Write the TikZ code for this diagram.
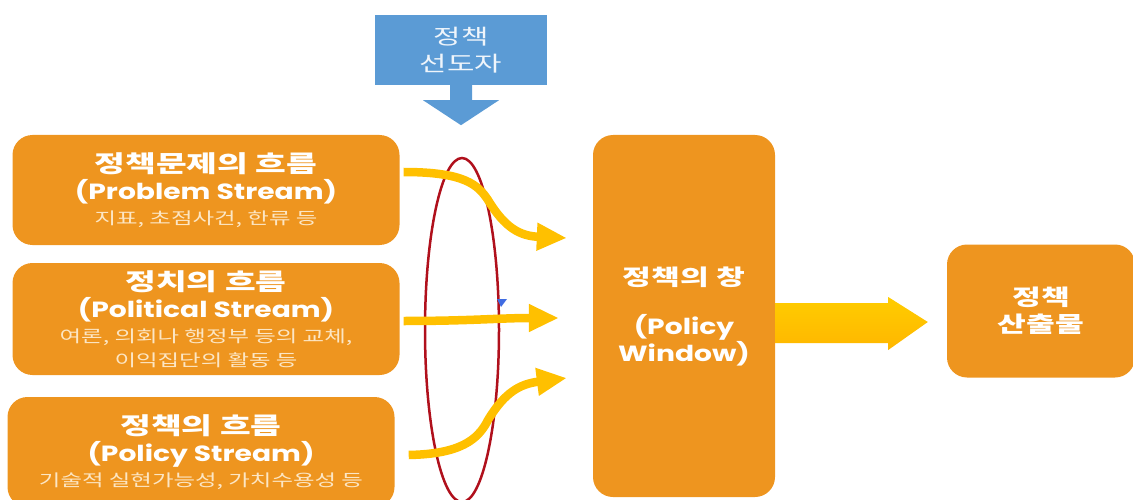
\documentclass[tikz,border=0pt]{standalone}
\usepackage{fontspec}
\setmainfont{Noto Sans CJK KR}[FakeStretch=1.42]
\newfontfamily\engfont{Poppins}[FakeStretch=1.28]
\usepackage{tikz}
\usetikzlibrary{arrows.meta,positioning,calc}
\definecolor{streamfill}{HTML}{EE951F}
\definecolor{subtext}{HTML}{FCE6C4}
\definecolor{leadblue}{HTML}{5B9BD5}
\definecolor{flowgold}{HTML}{FFC000}
\definecolor{ringred}{HTML}{B0101C}
\newcommand{\subline}[1]{{\color{subtext}\fontsize{16.5}{20}\selectfont\mdseries #1}}
\newcommand{\engline}[1]{{\engfont\fontsize{22}{27}\selectfont #1}}

\begin{document}
\begin{tikzpicture}[x=1pt,y=-1pt,
 stream/.style={fill=streamfill,rounded corners=20pt,minimum width=387pt,align=center,text=white,font=\fontsize{23.5}{27}\selectfont\bfseries,inner sep=0pt},
 flow/.style={draw=flowgold,line width=8.5pt,-{Triangle[length=30pt,width=26pt]}}
]
\useasboundingbox (0,0) rectangle (1133,500);
% stream boxes
\node[stream,minimum height=110pt] (prob) at (206,190) {정책문제의 흐름\\\engline{(Problem Stream)}\\[-2pt]\subline{지표, 초점사건, 한류 등}};
\node[stream,minimum height=112pt] (pol) at (206,319) {정치의 흐름\\\engline{(Political Stream)}\\[-2pt]\subline{여론, 의회나 행정부 등의 교체,}\\[-3pt]\subline{이익집단의 활동 등}};
\node[stream,minimum height=110pt] (pcy) at (201,452) {정책의 흐름\\\engline{(Policy Stream)}\\[-2pt]\subline{기술적 실현가능성, 가치수용성 등}};
% window and output
\node[stream,minimum width=182pt,minimum height=362pt,font=\fontsize{22}{27}\selectfont\bfseries] (win) at (684,316) {정책의 창\\[22pt]\engline{(Policy}\\\engline{Window)}};
\node[stream,minimum width=188pt,minimum height=133pt,font=\fontsize{22}{27}\selectfont\bfseries] (out) at (1041,311) {정책\\산출물};
% policy entrepreneur
\node[fill=leadblue,minimum width=172pt,minimum height=70pt,align=center,text=white!90!leadblue,font=\fontsize{21}{27}\selectfont] (lead) at (461,50) {정책\\선도자};
\fill[leadblue] ($(lead.south)+(-11,0)$) -- ($(lead.south)+(-11,15)$) -- ($(lead.south)+(-38,15)$) -- ($(lead.south)+(0,40)$) -- ($(lead.south)+(38,15)$) -- ($(lead.south)+(11,15)$) -- ($(lead.south)+(11,0)$) -- cycle;
% coupling ring
\draw[ringred,line width=2.5pt] (462,330) ellipse [x radius=37, y radius=172];
\fill[leadblue!70!blue] (497,299) -- (507,299) -- (501,307) -- cycle;
% streams into the window
\draw[flow] ($(prob.east)+(4,-18)$) .. controls (465,172) and (478,185) .. (488,200) .. controls (505,228) and (520,236) .. ($(win.west)+(-26,-78)$);
\draw[flow] ($(pol.east)+(4,2)$) .. controls (470,321) and (500,318) .. ($(win.west)+(-34,2)$);
\draw[flow] ($(pcy.east)+(14,3)$) .. controls (460,454) and (478,440) .. (488,420) .. controls (505,392) and (520,384) .. ($(win.west)+(-26,62)$);
% window to output
\shade[top color=flowgold!80!yellow,bottom color=flowgold!85!orange] ($(win.east)+(0,-13)$) -- ($(win.east)+(113,-13)$) -- ($(win.east)+(113,-19)$) -- ($(out.west)+(-19,11)$) -- ($(win.east)+(113,34)$) -- ($(win.east)+(113,27)$) -- ($(win.east)+(0,27)$) -- cycle;
\end{tikzpicture}
\end{document}
